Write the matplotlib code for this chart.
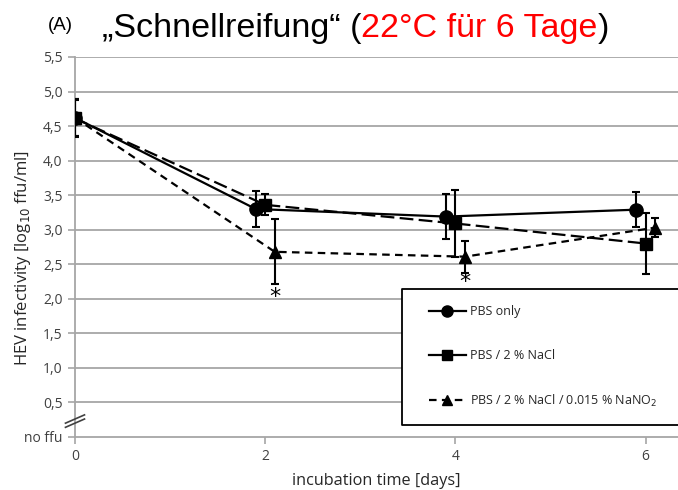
import matplotlib.pyplot as plt
from matplotlib.lines import Line2D
from matplotlib.patches import Rectangle

# Daten
x_pbs = [0, 1.9, 3.9, 5.9]
y_pbs = [4.62, 3.30, 3.19, 3.29]
e_pbs = [0.27, 0.26, 0.32, 0.25]

x_nacl = [0, 2.0, 4.0, 6.0]
y_nacl = [4.61, 3.36, 3.09, 2.80]
e_nacl = [0.27, 0.15, 0.49, 0.44]

x_nitrit = [0, 2.1, 4.1, 6.1]
y_nitrit = [4.62, 2.68, 2.61, 3.03]
e_nitrit = [0.27, 0.47, 0.23, 0.14]

stern_x = [2.1, 4.1]
stern_y = [2.03, 2.25]

y_ticks = [0, 0.5, 1.0, 1.5, 2.0, 2.5, 3.0, 3.5, 4.0, 4.5, 5.0, 5.5]
y_labels = ['no ffu', '0,5', '1,0', '1,5', '2,0', '2,5', '3,0', '3,5', '4,0', '4,5', '5,0', '5,5']
x_ticks = [0, 2, 4, 6]

labels = ['PBS only', 'PBS / 2 % NaCl', 'PBS / 2 % NaCl / 0.015 % NaNO$_2$']

grau = '#a6a6a6'
fnt = 'Open Sans'

fig = plt.figure(figsize=(6.78, 4.9), dpi=100)
ax = fig.add_axes([0.1106, 0.1082, 0.8894, 0.7755])

ax.set_xlim(0, 6.34)
ax.set_ylim(0, 5.5)

# Gitter
for yt in y_ticks[1:]:
    ax.axhline(yt, color=grau, lw=1.3, zorder=0)

lang = (0, (6.2, 2.4))
kurz = (0, (3.4, 2.4))

ax.errorbar(x_pbs, y_pbs, yerr=e_pbs, color='black', lw=1.6, ls='-',
            marker='o', ms=9.5, capsize=3, elinewidth=1.5, capthick=1.5, zorder=3)
ax.errorbar(x_nitrit, y_nitrit, yerr=e_nitrit, color='black', lw=1.6, ls=kurz,
            marker='^', ms=8, capsize=3, elinewidth=1.5, capthick=1.5, zorder=3)
ax.errorbar(x_nacl, y_nacl, yerr=e_nacl, color='black', lw=1.6, ls=lang,
            marker='s', ms=8.5, capsize=3, elinewidth=1.5, capthick=1.5, zorder=4)

for sx, sy in zip(stern_x, stern_y):
    ax.text(sx, sy, '*', ha='center', va='center', fontsize=16, fontfamily='DejaVu Sans')

# Achsen
for s in ['top', 'right']:
    ax.spines[s].set_visible(False)
ax.spines['left'].set_color(grau)
ax.spines['bottom'].set_color(grau)
ax.spines['left'].set_linewidth(1.3)
ax.spines['bottom'].set_linewidth(1.3)

ax.set_yticks(y_ticks)
ax.set_yticklabels(y_labels)
ax.set_xticks(x_ticks)
ax.set_xticklabels([str(t) for t in x_ticks])
ax.tick_params(axis='both', colors=grau, length=5, width=1.2, labelsize=10,
               labelcolor='#404040', pad=4)
for t in ax.get_xticklabels() + ax.get_yticklabels():
    t.set_fontfamily(fnt)

ax.set_ylabel('HEV infectivity [log$_{10}$ ffu/ml]', fontsize=12, fontfamily=fnt,
              color='#262626')
ax.yaxis.set_label_coords(-0.07, 0.47)
ax.set_xlabel('incubation time [days]', fontsize=11.7, fontfamily=fnt,
              color='#262626')
ax.xaxis.set_label_coords(0.5, -0.095)

# Achsenbruch
for dy in [-0.03, 0.03]:
    ax.plot([-0.1, 0.1], [0.23 + dy - 0.06, 0.23 + dy + 0.06], color='#404040',
            lw=1.2, clip_on=False, zorder=5)

# Legende (Kasten läuft rechts aus dem Bild)
x0, y0, y1 = 0.542, 0.0316, 0.3896
ax.add_patch(Rectangle((x0, y0), 1.0 - x0, y1 - y0, transform=ax.transAxes,
                       facecolor='white', edgecolor='none', zorder=6))
ax.plot([1.0, x0, x0, 1.0], [y1, y1, y0, y0], transform=ax.transAxes,
        color='black', lw=1.3, solid_capstyle='butt', zorder=6)
handles = [
    Line2D([], [], color='black', lw=1.6, marker='o', ms=8),
    Line2D([], [], color='black', lw=1.6, marker='s', ms=7.5),
    Line2D([], [], color='black', lw=1.6, ls=kurz, marker='^', ms=7),
]
leg = ax.legend(handles, labels, loc='center left', bbox_to_anchor=(0.587, 0.2105),
                frameon=False, labelspacing=2.46, handlelength=2.96, handletextpad=0.3,
                borderpad=0, borderaxespad=0, prop={'family': fnt, 'size': 9})
leg.set_zorder(7)
for t in leg.get_texts():
    t.set_color('#262626')

# Titel
fig.text(0.071, 0.939, '(A)', fontsize=13.5, fontfamily='Liberation Sans')
teile = [('„Schnellreifung“ (', 'black'), ('22°C für 6 Tage', 'red'), (')', 'black')]
r = fig.canvas.get_renderer()
xpos = 0.150
for txt, col in teile:
    t = fig.text(xpos, 0.9245, txt, fontsize=24.5, fontfamily='Liberation Sans', color=col)
    bb = t.get_window_extent(renderer=r)
    xpos = bb.x1 / fig.bbox.width

fig.savefig('out.png', dpi=100)
